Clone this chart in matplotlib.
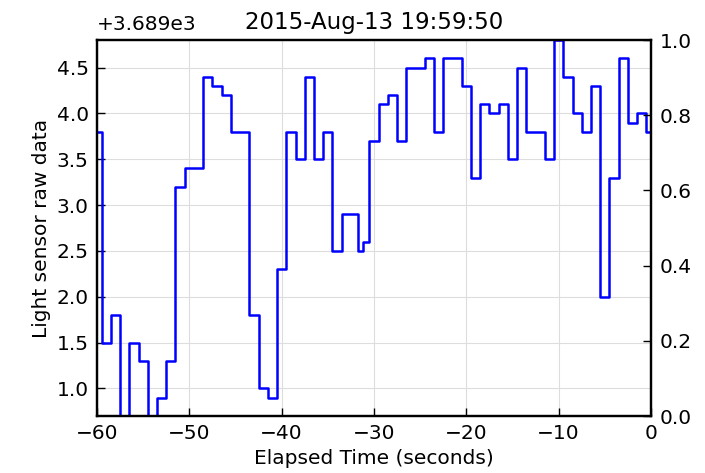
import numpy as np
import matplotlib

matplotlib.use("Agg")
from matplotlib import pyplot as plt
from matplotlib.ticker import ScalarFormatter, MultipleLocator

# Light sensor readings over the last minute (one sample per second,
# plus one extra short sample around -31.5 s)
times = [
    -60, -59, -58, -57, -56, -55, -54, -53, -52, -51,
    -50, -49, -48, -47, -46, -45, -44, -43, -42, -41,
    -40, -39, -38, -37, -36, -35, -34, -33, -32, -31.45,
    -31, -30, -29, -28, -27, -26, -25, -24, -23, -22,
    -21, -20, -19, -18, -17, -16, -15, -14, -13, -12,
    -11, -10, -9, -8, -7, -6, -5, -4, -3, -2,
    -1, 0,
]
raw = [
    3692.8, 3690.5, 3690.8, 3689.7, 3690.5, 3690.3, 3689.7, 3689.9, 3690.3, 3692.2,
    3692.4, 3692.4, 3693.4, 3693.3, 3693.2, 3692.8, 3692.8, 3690.8, 3690.0, 3689.9,
    3691.3, 3692.8, 3692.5, 3693.4, 3692.5, 3692.8, 3691.5, 3691.9, 3691.9, 3691.5,
    3691.6, 3692.7, 3693.1, 3693.2, 3692.7, 3693.5, 3693.5, 3693.6, 3692.8, 3693.6,
    3693.6, 3693.3, 3692.3, 3693.1, 3693.0, 3693.1, 3692.5, 3693.5, 3692.8, 3692.8,
    3692.5, 3693.8, 3693.4, 3693.0, 3692.8, 3693.3, 3691.0, 3692.3, 3693.6, 3692.9,
    3693.0, 3692.8,
]
title = "2015-Aug-13 19:59:50"

FS = 14.5

fig = plt.figure(figsize=(7.05, 4.73), dpi=100)
ax = fig.add_axes([0.1376, 0.1205, 0.7858, 0.7949])

ax.plot(times, raw, drawstyle="steps-mid", color="#0000ff", lw=1.8)

ax.set_xlim(-60, 0)
ax.set_ylim(min(raw), max(raw))
ax.yaxis.set_major_locator(MultipleLocator(0.5))
fmt = ScalarFormatter(useOffset=3689)
ax.yaxis.set_major_formatter(fmt)
ax.yaxis.get_offset_text().set_fontsize(FS)
ax.yaxis.OFFSETTEXTPAD = 7  # lift "+3.689e3" off the top spine

ax.grid(True, color="#dddddd", lw=0.8)
ax.set_axisbelow(True)
ax.tick_params(direction="in", length=6, width=1, labelsize=FS, pad=6)
for s in ax.spines.values():
    s.set_linewidth(1.6)

ax.set_xlabel("Elapsed Time (seconds)", fontsize=FS, labelpad=4)
ax.set_ylabel("Light sensor raw data", fontsize=FS)
ax.set_title(title, fontsize=16.5, pad=8)

# empty right axis, as in the original
ax2 = ax.twinx()
ax2.set_ylim(0, 1)
ax2.yaxis.set_major_locator(MultipleLocator(0.2))
ax2.tick_params(direction="in", length=6, width=1, labelsize=FS, pad=6)
for s in ax2.spines.values():
    s.set_linewidth(1.6)

fig.savefig("out.png", dpi=100)
